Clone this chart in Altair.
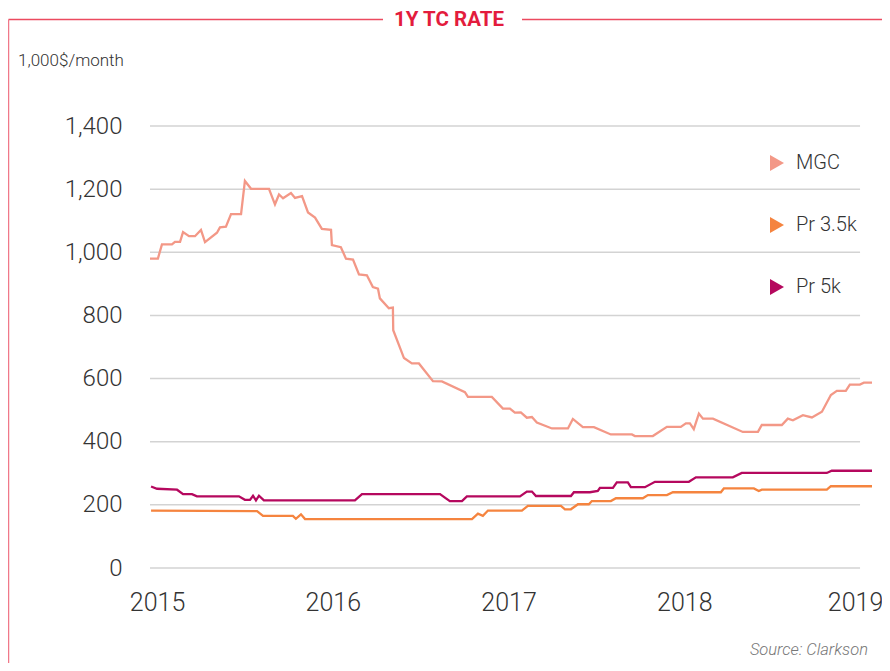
import altair as alt
import pandas as pd

# ---- data (decimal year, value in 1,000 $/month) ----
series_names = ["MGC", "Pr 3.5k", "Pr 5k"]
series_colors = ["#f39887", "#f5843f", "#b5085e"]

mgc_x = [2014.960, 2015.005, 2015.028, 2015.085, 2015.102, 2015.131, 2015.148, 2015.182,
         2015.216, 2015.250, 2015.273, 2015.341, 2015.358, 2015.392, 2015.421, 2015.478,
         2015.500, 2015.535, 2015.637, 2015.671, 2015.694, 2015.717, 2015.762, 2015.785,
         2015.825, 2015.859, 2015.899, 2015.938, 2015.990, 2015.995, 2016.046, 2016.075,
         2016.115, 2016.149, 2016.194, 2016.228, 2016.257, 2016.268, 2016.319, 2016.342,
         2016.344, 2016.405, 2016.450, 2016.490, 2016.570, 2016.621, 2016.752, 2016.769,
         2016.905, 2016.968, 2017.008, 2017.036, 2017.070, 2017.104, 2017.133, 2017.161,
         2017.247, 2017.338, 2017.366, 2017.423, 2017.486, 2017.582, 2017.702, 2017.719,
         2017.821, 2017.901, 2017.980, 2018.009, 2018.032, 2018.054, 2018.083, 2018.106,
         2018.163, 2018.333, 2018.419, 2018.441, 2018.555, 2018.589, 2018.618, 2018.675,
         2018.726, 2018.783, 2018.834, 2018.868, 2018.919, 2018.942, 2018.999, 2019.022,
         2019.068]
mgc_y = [980, 980, 1025, 1025, 1033, 1033, 1064, 1051,
         1051, 1071, 1032, 1062, 1079, 1081, 1121, 1121,
         1226, 1201, 1201, 1152, 1183, 1171, 1188, 1172,
         1178, 1126, 1110, 1074, 1071, 1023, 1016, 980,
         977, 930, 927, 890, 885, 854, 823, 825,
         753, 665, 648, 648, 592, 591, 557, 542,
         542, 505, 505, 492, 493, 476, 478, 461,
         442, 442, 472, 446, 446, 423, 423, 418,
         418, 447, 447, 458, 458, 440, 489, 473,
         473, 431, 431, 453, 453, 473, 468, 484,
         477, 495, 548, 561, 561, 581, 581, 587,
         587]

pr35_x = [2014.966, 2015.569, 2015.603, 2015.773, 2015.790, 2015.819, 2015.842, 2016.792,
          2016.826, 2016.854, 2016.883, 2017.076, 2017.110, 2017.298, 2017.321, 2017.355,
          2017.395, 2017.457, 2017.474, 2017.582, 2017.611, 2017.764, 2017.793, 2017.901,
          2017.935, 2018.208, 2018.225, 2018.396, 2018.424, 2018.441, 2018.811, 2018.834,
          2019.068]
pr35_y = [182, 180, 165, 165, 156, 170, 155, 155,
          172, 165, 182, 182, 197, 197, 186, 186,
          202, 202, 212, 212, 221, 221, 231, 231,
          240, 240, 252, 252, 244, 248, 248, 259,
          259]

pr5_x = [2014.966, 2015.000, 2015.114, 2015.148, 2015.199, 2015.227, 2015.466, 2015.500,
         2015.529, 2015.546, 2015.563, 2015.580, 2015.608, 2016.126, 2016.166, 2016.610,
         2016.666, 2016.735, 2016.763, 2017.065, 2017.104, 2017.133, 2017.156, 2017.355,
         2017.372, 2017.463, 2017.508, 2017.520, 2017.594, 2017.616, 2017.679, 2017.696,
         2017.776, 2017.833, 2018.026, 2018.066, 2018.276, 2018.327, 2018.811, 2018.839,
         2019.068]
pr5_y = [258, 251, 248, 234, 234, 227, 227, 216,
         216, 229, 214, 229, 214, 214, 234, 234,
         212, 212, 227, 227, 242, 242, 228, 228,
         240, 240, 244, 254, 254, 271, 271, 256,
         256, 273, 273, 287, 287, 301, 301, 308,
         308]

y_ticks = [0, 200, 400, 600, 800, 1000, 1200, 1400]
x_ticks = [2015, 2016, 2017, 2018, 2019]

rows = []
for name, xs, ys in [("MGC", mgc_x, mgc_y), ("Pr 3.5k", pr35_x, pr35_y), ("Pr 5k", pr5_x, pr5_y)]:
    for i, (xv, yv) in enumerate(zip(xs, ys)):
        rows.append({"series": name, "year": xv, "value": yv, "idx": i})
df = pd.DataFrame(rows)

X0, X1, XG = 2014.96, 2019.068, 2019.0
xscale = alt.Scale(domain=[X0, X1], nice=False, zero=False)
yscale = alt.Scale(domain=[0, 1400], nice=False)
cscale = alt.Scale(domain=series_names, range=series_colors)

FONT = "Roboto"
TXT = "#333333"

x_axis = alt.Axis(values=x_ticks, format="d", title=None, grid=False, domain=False,
                  ticks=False, labelPadding=22, labelFontSize=25, labelColor=TXT,
                  labelFont=FONT, labelFontWeight=300,
                  labelOffset={"condition": {"test": "datum.value == 2019", "value": -5}, "value": 0})
y_axis = alt.Axis(values=y_ticks, format=",.0f", title=None, grid=False, domain=False,
                  ticks=False, labelPadding=28, labelFontSize=24, labelColor=TXT,
                  labelFont=FONT, labelFontWeight=300)

grid_df = pd.DataFrame({"value": y_ticks, "year": [X0] * len(y_ticks), "year2": [XG] * len(y_ticks)})
grid = alt.Chart(grid_df).mark_rule(color="#d3d3d3", strokeWidth=1.5).encode(
    x=alt.X("year:Q", scale=xscale, axis=x_axis),
    x2="year2:Q",
    y=alt.Y("value:Q", scale=yscale, axis=y_axis),
)

lines = alt.Chart(df).mark_line(strokeWidth=2.3).encode(
    x=alt.X("year:Q", scale=xscale, axis=x_axis),
    y=alt.Y("value:Q", scale=yscale, axis=y_axis),
    color=alt.Color("series:N", scale=cscale, legend=None),
    order="idx:Q",
)

# invisible points that carry the (filled triangle) legend
legend_pts = alt.Chart(df).mark_point(filled=True, shape="triangle-right", opacity=0, size=1).encode(
    x=alt.X("year:Q", scale=xscale, axis=x_axis),
    y=alt.Y("value:Q", scale=yscale, axis=y_axis),
    color=alt.Color("series:N", scale=cscale,
                    legend=alt.Legend(title=None, orient="none", legendX=617, legendY=27,
                                      symbolType="triangle-right", symbolSize=260,
                                      symbolOpacity=1, symbolStrokeWidth=0,
                                      labelFontSize=20, labelColor=TXT,
                                      labelFont=FONT, labelFontWeight=300, rowPadding=42,
                                      labelOffset=9)),
)

# titles / frame (positions relative to the plot area)
title = alt.Chart(pd.DataFrame({"t": ["1Y TC RATE"]})).mark_text(
    font=FONT, fontSize=20.5, fontWeight="bold", color="#e31c3d", align="center",
    baseline="alphabetic"
).encode(x=alt.value(299), y=alt.value(-100), text="t:N")

unit = alt.Chart(pd.DataFrame({"t": ["1,000$/month"]})).mark_text(
    font=FONT, fontSize=17, fontWeight=300, color=TXT, align="left", baseline="middle"
).encode(x=alt.value(-132), y=alt.value(-65), text="t:N")

source = alt.Chart(pd.DataFrame({"t": ["Source: Clarkson"]})).mark_text(
    font=FONT, fontSize=16.5, fontWeight=300, fontStyle="italic", color="#777777",
    align="right", baseline="middle"
).encode(x=alt.value(718), y=alt.value(524), text="t:N")

FRAME = "#ec4a5f"
frame_left = alt.Chart(pd.DataFrame({"a": [0]})).mark_rule(color=FRAME, strokeWidth=1.4).encode(
    x=alt.value(-141.5), x2=alt.value(233), y=alt.value(-106.5))
frame_right = alt.Chart(pd.DataFrame({"a": [0]})).mark_rule(color=FRAME, strokeWidth=1.4).encode(
    x=alt.value(372), x2=alt.value(740), y=alt.value(-106.5))
frame_vert = alt.Chart(pd.DataFrame({"a": [0]})).mark_rule(color="#f07889", strokeWidth=1.5).encode(
    x=alt.value(-141.5), y=alt.value(-106.5), y2=alt.value(560))

chart = alt.layer(grid, lines, legend_pts, title, unit, source,
                  frame_left, frame_right, frame_vert).resolve_legend(
    color="independent"
).properties(
    width=722, height=442,
    autosize=alt.AutoSizeParams(type="none"),
    padding={"left": 142, "top": 118, "right": 10, "bottom": 95},
).configure(font=FONT).configure_view(stroke=None)

chart.save("out.html", embed_options={"renderer": "svg", "actions": False})
